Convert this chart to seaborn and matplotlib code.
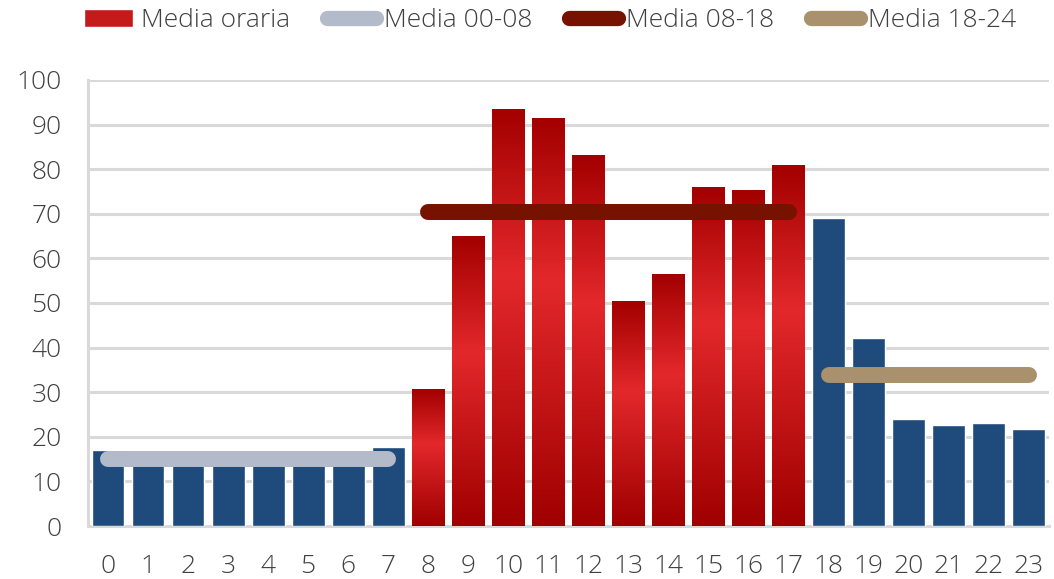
import numpy as np
import matplotlib
matplotlib.use("Agg")
import matplotlib.pyplot as plt
import seaborn as sns
from matplotlib.patches import Patch
from matplotlib.lines import Line2D
from matplotlib.colors import LinearSegmentedColormap

# dati
ore = list(range(24))
media_oraria = [17.0, 14.5, 14.0, 14.0, 14.0, 14.0, 14.5, 17.7,
                30.7, 65.0, 93.5, 91.5, 83.2, 50.4, 56.5, 76.0, 75.3, 80.9,
                69.0, 42.2, 24.0, 22.6, 23.1, 21.7]
media_00_08 = 15.0
media_08_18 = 70.3
media_18_24 = 33.8
fasce = [(0, 7, media_00_08, "#B3BACA", "Media 00-08"),
         (8, 17, media_08_18, "#771100", "Media 08-18"),
         (18, 23, media_18_24, "#A8916C", "Media 18-24")]

blu = "#1F4A7C"
grigio = "#D9D9D9"
testo = "#404040"

sns.set_style("white")
plt.rcParams['font.family'] = ['Open Sans', 'DejaVu Sans']
plt.rcParams['font.weight'] = 300

fig = plt.figure(figsize=(10.54, 5.79), dpi=100)
ax = fig.add_axes([0.0835, 0.0915, 0.9115, 0.7705])

sns.barplot(x=ore, y=media_oraria, color=blu, width=0.82, saturation=1,
            order=ore, ax=ax, zorder=3)

# barre rosse con sfumatura
cmap = LinearSegmentedColormap.from_list(
    "rosso", [(0, "#A30000"), (0.4, "#E3282B"), (1, "#A00000")])
grad = np.linspace(0, 1, 256).reshape(-1, 1)
for i, bar in enumerate(ax.patches):
    if 8 <= ore[i] <= 17:
        x0, w, h = bar.get_x(), bar.get_width(), bar.get_height()
        bar.set_facecolor("none")
        bar.set_edgecolor("none")
        im = ax.imshow(grad, cmap=cmap, aspect="auto",
                       extent=[x0, x0 + w, 0, h], zorder=3)
        im.set_clip_path(bar)

for a, b, m, c, lab in fasce:
    sns.lineplot(x=[a, b], y=[m, m], color=c, linewidth=11.5, ax=ax,
                 solid_capstyle="round", zorder=4)

ax.set_xlim(-0.5, 23.5)
ax.set_ylim(0, 100)
ax.set_yticks(range(0, 101, 10))
ax.grid(axis="y", color=grigio, linewidth=2.2, zorder=0)
ax.set_axisbelow(True)

for s in ["top", "right"]:
    ax.spines[s].set_visible(False)
for s in ["left", "bottom"]:
    ax.spines[s].set_color(grigio)
    ax.spines[s].set_linewidth(2.2)

ax.set_xticks(ore)
ax.set_xticks(np.arange(-0.5, 24, 1), minor=True)
ax.tick_params(axis="x", which="major", length=0, pad=20, labelsize=19, labelcolor=testo)
ax.tick_params(axis="x", which="minor", length=6, width=2.2, color=grigio)
ax.tick_params(axis="y", length=6, width=2.2, color=grigio, pad=13,
               labelsize=19, labelcolor=testo)
ax.set_xlabel("")
ax.set_ylabel("")

handles = [Patch(facecolor="#C41A1A", label="Media oraria")]
for a, b, m, c, lab in fasce:
    handles.append(Line2D([0], [0], color=c, linewidth=11,
                          solid_capstyle="round", label=lab))
fig.legend(handles=handles, loc="center", bbox_to_anchor=(0.522, 0.964),
           ncol=4, frameon=False, prop={"size": 19, "weight": 300},
           handlelength=1.85, handleheight=0.65, handletextpad=0.3,
           columnspacing=1.4, labelcolor=testo)

fig.savefig("out.png", dpi=100)
